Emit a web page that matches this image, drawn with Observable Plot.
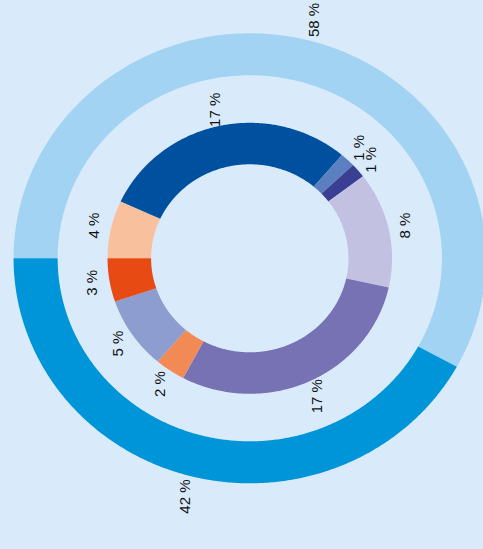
<!DOCTYPE html>
<html>
<head>
<meta charset="utf-8">
<script src="https://cdn.jsdelivr.net/npm/d3@7"></script>
<script src="https://cdn.jsdelivr.net/npm/@observablehq/plot@0.6"></script>
<style>
  html, body { margin: 0; padding: 0; background: #d9ebfa; }
  #chart svg { display: block; }
</style>
</head>
<body>
<div id="chart"></div>
<script>
// ---- data ----
const outerValues = [58, 42];
const outerLabels = ["58 %", "42 %"];
const outerColors = ["#a3d3f2", "#0095d9"];

const innerValues = [4, 17, 1, 1, 8, 17, 2, 5, 3];
const innerLabels = ["4 %", "17 %", "1 %", "1 %", "8 %", "17 %", "2 %", "5 %", "3 %"];
const innerColors = ["#f9c09d", "#0050a0", "#5b7fc0", "#3a3f93", "#c3c1e2", "#7672b4", "#f28a55", "#8e9dcf", "#e84a13"];

// ---- layout ----
const W = 483, H = 549;
const cx = 249.3, cy = 257.8;   // ring centre in the frame
const sx = 1.05;                // horizontal stretch of the reference
const startDeg = -90;           // rings start at 9 o'clock, clockwise
const rings = [
  {values: outerValues, labels: outerLabels, colors: outerColors, r0: 183, r1: 225, rl: 246},
  {values: innerValues, labels: innerLabels, colors: innerColors, r0: 94, r1: 135.5, rl: 152}
];

function pt(r, deg) {
  const a = deg * Math.PI / 180;
  return [sx * r * Math.sin(a), -r * Math.cos(a)];
}

const features = [];
const labels = [];
for (const ring of rings) {
  const total = d3.sum(ring.values);
  let acc = 0;
  ring.values.forEach((v, i) => {
    const a0 = startDeg + acc / total * 360;
    acc += v;
    const a1 = startDeg + acc / total * 360;
    const n = Math.max(2, Math.ceil((a1 - a0) / 0.5));
    const outer = d3.range(n + 1).map(k => pt(ring.r1, a0 + (a1 - a0) * k / n));
    const inner = d3.range(n + 1).map(k => pt(ring.r0, a1 - (a1 - a0) * k / n));
    const coords = [...outer, ...inner, outer[0]];
    features.push({type: "Feature", properties: {color: ring.colors[i]}, geometry: {type: "Polygon", coordinates: [coords]}});
    const [lx, ly] = pt(ring.rl, (a0 + a1) / 2);
    labels.push({x: lx, y: ly, text: ring.labels[i]});
  });
}

const chart = Plot.plot({
  width: W,
  height: H,
  margin: 0,
  style: {background: "#d9ebfa", fontFamily: "'Liberation Sans', Arial, sans-serif"},
  projection: {
    type: "identity",
    domain: {type: "MultiPoint", coordinates: [[-cx, -cy], [W - cx, H - cy]]}
  },
  color: {type: "identity"},
  marks: [
    Plot.geo(features, {fill: d => d.properties.color, stroke: "none"}),
    Plot.text(labels, {
      x: "x", y: "y", text: "text", rotate: -90,
      fontSize: 15, fill: "#111111"
    })
  ]
});
document.getElementById("chart").appendChild(chart);
</script>
</body>
</html>
